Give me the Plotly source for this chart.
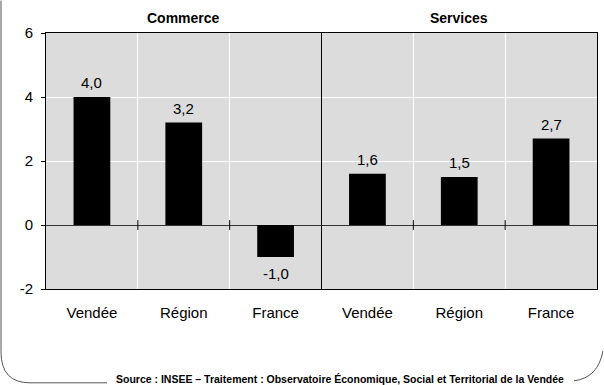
import plotly.graph_objects as go

# Évolution par secteur (en %)
sectors = ["Commerce", "Services"]
areas = ["Vendée", "Région", "France"]
commerce = [4.0, 3.2, -1.0]
services = [1.6, 1.5, 2.7]
y_ticks = [-2, 0, 2, 4, 6]
source = "Source : INSEE – Traitement : Observatoire Économique, Social et Territorial de la Vendée"

FONT = "Liberation Sans, Arial, sans-serif"
W, H = 604, 385
ML, MR, MT, MB = 46, 7, 32.5, 96

values = commerce + services
labels = areas + areas
xs = list(range(len(values)))
n_per = len(areas)


def fr(v):
    return f"{v:.1f}".replace(".", ",")


fig = go.Figure()
fig.add_trace(go.Bar(
    x=xs, y=values, width=0.4,
    marker=dict(color="black", line=dict(width=0)),
    hoverinfo="skip",
))

# small ticks on the zero line between categories
bounds = [i + 0.5 for i in xs[:-1]]
fig.add_trace(go.Scatter(
    x=bounds, y=[0] * len(bounds), mode="markers",
    marker=dict(symbol="line-ns", size=7, line=dict(color="black", width=1)),
    hoverinfo="skip", showlegend=False,
))

pw, ph = W - ML - MR, H - MT - MB


def px(x):
    return (x - ML) / pw


def py(y):
    return (H - MB - y) / ph


shapes = []
# separator between the two sectors
shapes.append(dict(type="line", xref="x", yref="paper", x0=n_per - 0.5, x1=n_per - 0.5,
                   y0=0, y1=1, line=dict(color="black", width=1), layer="above"))
# outer frame: rounded corner on the left, tail on the right
shapes.append(dict(type="path", xref="paper", yref="paper",
                   path=f"M {px(1)} {py(0)} L {px(1)} {py(352)} Q {px(1)} {py(383)} {px(30)} {py(383)} L {px(107)} {py(383)}",
                   line=dict(color="#555555", width=1)))
shapes.append(dict(type="path", xref="paper", yref="paper",
                   path=f"M {px(574)} {py(381)} Q {px(598)} {py(378)} {px(603)} {py(351)}",
                   line=dict(color="#555555", width=1)))

annotations = []
# value labels above / below each bar
for x, v in zip(xs, values):
    annotations.append(dict(x=x, y=v, xref="x", yref="y", text=fr(v), showarrow=False,
                            font=dict(family=FONT, size=15, color="black"),
                            xanchor="center", yanchor="bottom" if v >= 0 else "top",
                            yshift=4 if v >= 0 else -6))
for i, s in enumerate(sectors):
    annotations.append(dict(x=i * n_per + (n_per - 1) / 2, xref="x", y=py(17), yref="paper",
                            text=f"<b>{s}</b>", showarrow=False,
                            font=dict(family=FONT, size=14, color="black"),
                            xanchor="center", yanchor="middle"))
annotations.append(dict(x=px(340), xref="paper", y=py(379), yref="paper",
                        text=f"<b>{source}</b>", showarrow=False,
                        font=dict(family=FONT, size=10.5, color="black"),
                        xanchor="center", yanchor="middle"))

fig.update_layout(
    width=W, height=H,
    margin=dict(l=ML, r=MR, t=MT, b=MB, pad=0),
    paper_bgcolor="white", plot_bgcolor="#DCDCDC",
    showlegend=False, bargap=0.6,
    font=dict(family=FONT, size=15, color="black"),
    shapes=shapes, annotations=annotations,
    xaxis=dict(
        range=[-0.5, len(values) - 0.5], tickvals=xs, ticktext=labels,
        showgrid=False, ticks="", showline=True, mirror=True,
        linecolor="black", linewidth=1, zeroline=False,
        ticklabelstandoff=10,
        tickfont=dict(family=FONT, size=15, color="black"),
        minor=dict(tick0=0.5, dtick=1, showgrid=True, gridcolor="white", gridwidth=1, ticks=""),
    ),
    yaxis=dict(
        range=[y_ticks[0], y_ticks[-1]], tickvals=y_ticks,
        ticktext=[str(t) for t in y_ticks],
        showgrid=True, gridcolor="white", gridwidth=1,
        ticks="outside", ticklen=4, tickcolor="black",
        ticklabelstandoff=5,
        showline=True, mirror=True, linecolor="black", linewidth=1,
        zeroline=True, zerolinecolor="#333333", zerolinewidth=1,
        tickfont=dict(family=FONT, size=15, color="black"),
    ),
)

fig.write_html("out.html")
